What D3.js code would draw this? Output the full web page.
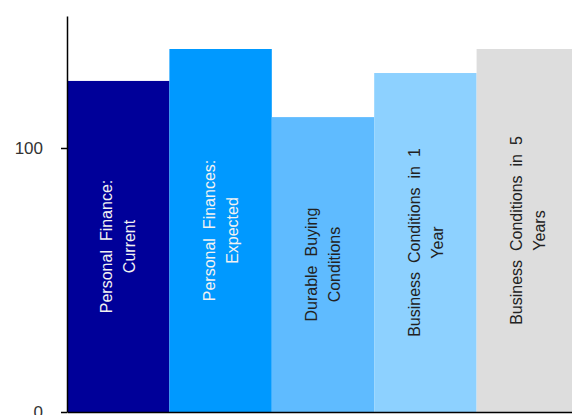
<!DOCTYPE html>
<html>
<head>
<meta charset="utf-8">
<script src="https://cdn.jsdelivr.net/npm/d3@7/dist/d3.min.js"></script>
<style>
  html, body { margin: 0; padding: 0; background: #fff; }
  svg { display: block; font-family: "Liberation Sans", Arial, sans-serif; }
</style>
</head>
<body>
<svg id="chart" width="572" height="415"></svg>
<script>
// Consumer sentiment components (index values)
const categories = [
  "Personal Finance: Current",
  "Personal Finances: Expected",
  "Durable Buying Conditions",
  "Business Conditions in 1 Year",
  "Business Conditions in 5 Years"
];
const labelLines = [
  ["Personal Finance:", "Current"],
  ["Personal Finances:", "Expected"],
  ["Durable Buying", "Conditions"],
  ["Business Conditions in 1", "Year"],
  ["Business Conditions in 5", "Years"]
];
const values = [125.4, 137.5, 111.7, 128.4, 137.5];
const barColors = ["#000099", "#0099ff", "#5fbbff", "#8dd1ff", "#dddddd"];
const labelColors = ["#f2f2f2", "#f2f2f2", "#222222", "#222222", "#222222"];
const yTicks = [0, 100];
const yMax = 150;

const svg = d3.select("#chart");
const plot = { left: 67, right: 579, top: 16, bottom: 412 };

const x = d3.scaleBand().domain(categories).range([plot.left, plot.right]).padding(0);
const y = d3.scaleLinear().domain([0, yMax]).range([plot.bottom, plot.top]);

const rows = categories.map((c, i) => ({ c, v: values[i], lines: labelLines[i], fill: barColors[i], ink: labelColors[i] }));

// Bars
svg.append("g").selectAll("rect")
  .data(rows)
  .join("rect")
  .attr("x", d => x(d.c))
  .attr("width", x.bandwidth())
  .attr("y", d => y(d.v))
  .attr("height", d => y(0) - y(d.v))
  .attr("fill", d => d.fill);

// Rotated category labels centred inside each bar
const lbl = svg.append("g").selectAll("text")
  .data(rows)
  .join("text")
  .attr("transform", d => `translate(${x(d.c) + x.bandwidth() / 2},${(y(d.v) + y(0)) / 2}) rotate(-90)`)
  .attr("text-anchor", "middle")
  .attr("font-size", 16)
  .attr("word-spacing", 4.5)
  .attr("fill", d => d.ink);
lbl.selectAll("tspan")
  .data(d => d.lines.map((t, k) => ({ t, k })))
  .join("tspan")
  .attr("x", 0)
  .attr("y", d => d.k === 0 ? -5.8 : 17.2)
  .text(d => d.t);

// Bottom baseline
svg.append("g")
  .attr("transform", `translate(0,${plot.bottom})`)
  .call(d3.axisBottom(x).tickSize(0).tickFormat(""))
  .call(g => g.select(".domain").attr("stroke", "#000").attr("stroke-width", 1.5));

// Left axis
svg.append("g")
  .attr("transform", `translate(${plot.left},0)`)
  .call(d3.axisLeft(y).tickValues(yTicks).tickSize(6).tickSizeOuter(0).tickPadding(18))
  .call(g => g.select(".domain").attr("stroke", "#000").attr("stroke-width", 1.5))
  .call(g => g.selectAll(".tick line").attr("stroke", "#000").attr("stroke-width", 1.5))
  .call(g => g.selectAll(".tick text")
    .attr("font-family", "'Liberation Sans', Arial, sans-serif")
    .attr("font-size", 17)
    .attr("fill", "#333"));
</script>
</body>
</html>
